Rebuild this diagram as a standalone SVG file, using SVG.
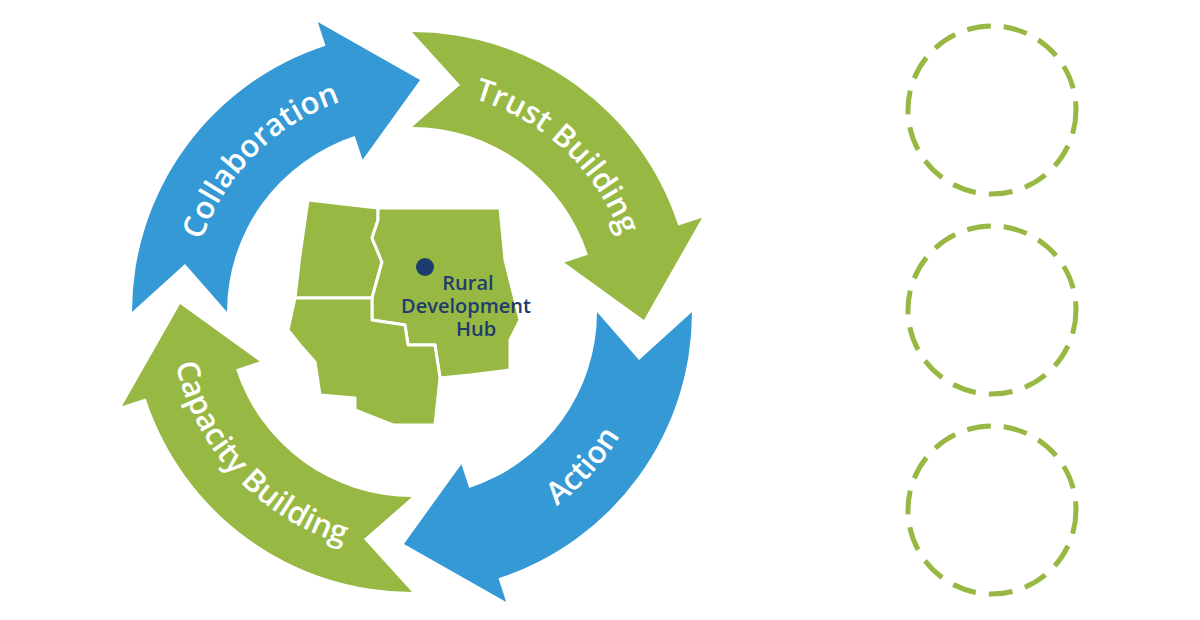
<svg xmlns="http://www.w3.org/2000/svg" width="1200" height="620" viewBox="0 0 1200 620">
<defs>
<style>
.blue{fill:#3499d4}.green{fill:#97b843}
.lbl{fill:#fff;font-family:"Open Sans","Liberation Sans",sans-serif;font-weight:600;font-size:31px}
.st{fill:#97b843;stroke:#fff;stroke-width:3;stroke-linejoin:round}
.hub{fill:#1f3c6e;font-family:"Open Sans","Liberation Sans",sans-serif;font-weight:600;font-size:20px;text-anchor:middle}
.dc{fill:none;stroke:#97b843;stroke-width:5;stroke-dasharray:24 13}
</style>
<path id="arr" d="M132,312 A280,280 0 0 1 325.5,45.7 L317.8,21.9 L420.1,80.1 L362.6,159.8 L354.8,136.1 A185,185 0 0 0 227,312 L185,264 Z"/>
<path id="pCol" d="M193.4,350.6 A222,222 0 0 1 450.6,93.4"/>
<path id="pTrust" d="M365.8,94.9 A222,222 0 0 1 631.8,342.9"/>
<path id="pAct" d="M382.5,552.3 A242,242 0 0 0 647.7,257.6"/>
<path id="pCap" d="M175.3,261.7 A242,242 0 0 0 445.7,551.6"/>
</defs>
<rect width="1200" height="620" fill="#fff"/>
<g id="connectors">
<use href="#arr" class="blue"/>
<use href="#arr" class="green" transform="rotate(90 412 312)"/>
<use href="#arr" class="blue" transform="rotate(180 412 312)"/>
<use href="#arr" class="green" transform="rotate(270 412 312)"/>
</g>
<g id="collaboration"><text class="lbl" text-anchor="middle"><textPath href="#pCol" startOffset="50%">Collaboration</textPath></text></g>
<g id="trust"><text class="lbl" text-anchor="middle"><textPath href="#pTrust" startOffset="50%">Trust Building</textPath></text></g>
<g id="action"><text class="lbl" text-anchor="middle"><textPath href="#pAct" startOffset="50%">Action</textPath></text></g>
<g id="capacity"><text class="lbl" text-anchor="middle"><textPath href="#pCap" startOffset="50%">Capacity Building</textPath></text></g>
<g id="map">
<polygon class="st" points="308,200 378,208 378,220 372,238 382,262 372,298 295,298 300,255"/>
<polygon class="st" points="378,208 500,208 505,260 515,300 520,320 510,340 510,370 470,375 440,378 435,345 408,345 405,325 372,320 372,298 382,262 372,238 378,220"/>
<polygon class="st" points="295,298 372,298 372,320 405,325 408,345 435,345 440,378 435,425 393,425 355,410 355,398 320,395 315,362 300,345 288,330"/>
<circle cx="425" cy="267" r="9" fill="#1f3c6e"/>
<text class="hub" x="468" y="290">Rural</text>
<text class="hub" x="466" y="313">Development</text>
<text class="hub" x="476" y="336">Hub</text>
</g>
<g id="c1"><circle class="dc" cx="992" cy="110" r="84"/></g>
<g id="c2"><circle class="dc" cx="992" cy="310" r="84"/></g>
<g id="c3"><circle class="dc" cx="992" cy="510" r="84"/></g>
</svg>
